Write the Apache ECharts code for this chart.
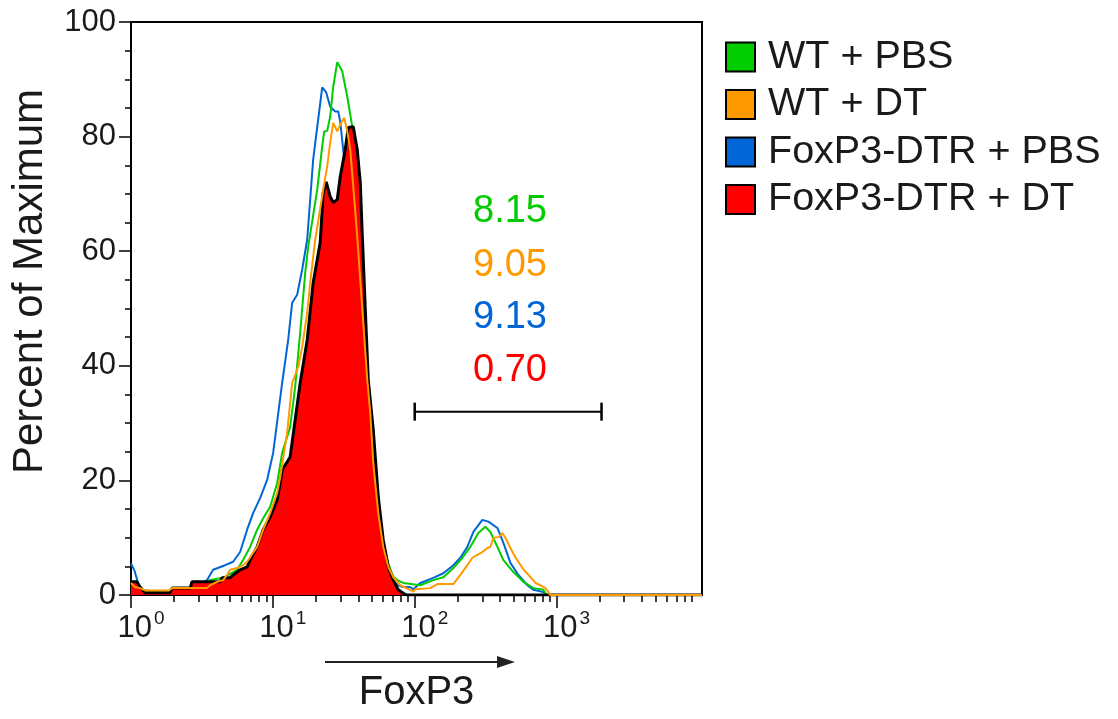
<!DOCTYPE html>
<html>
<head>
<meta charset="utf-8">
<script src="https://cdn.jsdelivr.net/npm/echarts@6/dist/echarts.min.js"></script>
<style>
  html, body { margin: 0; padding: 0; background: #fff; }
  #chart { width: 1118px; height: 719px; }
</style>
</head>
<body>
<div id="chart"></div>
<script>
// FoxP3 intensity (x) and percent of maximum (y)
const wtPbsX = [1, 1.158, 1.885, 2.2, 2.608, 3.611, 4.459, 5.598, 6.17, 6.916, 7.75, 8.545, 9.57, 10.72, 11.63, 13.24, 14.36, 15.58, 16.9, 17.75, 20.54, 22.28, 23.01, 24.16, 25.37, 26.64, 28.44, 30.84, 33.45, 36.29, 39.36, 42.68, 46.3, 51, 55.4, 60, 65.1, 70.6, 75.4, 83.1, 109.5, 135.3, 159.2, 187.3, 216.8, 246.8, 281.1, 314.8, 341.6, 382.8, 421.9, 496.5, 584, 687.4, 808.3, 850, 10600];
const wtPbsY = [0.8, 0.5, 0.5, 0.8, 1.2, 2.6, 3.0, 4.4, 6.1, 8.4, 11.4, 13.4, 15.4, 19.5, 24.8, 29.3, 36.3, 45.8, 56.2, 60.8, 70.7, 78.3, 80.9, 81, 83.5, 88.7, 93, 91.4, 87, 81.7, 74, 58, 38, 27, 16, 9, 5.5, 3.2, 2.6, 2.1, 1.7, 2.6, 3.1, 4.7, 6.5, 8.4, 10.8, 11.9, 11.0, 8.4, 6.1, 4.0, 2.3, 1.2, 0.9, 0, 0];

const wtDtX = [1, 1.067, 1.158, 1.255, 1.85, 1.95, 3.437, 3.611, 4.045, 4.459, 4.759, 4.996, 5.598, 6.17, 6.586, 6.916, 7.75, 8.545, 9.57, 10.72, 11.26, 12.61, 13.68, 15.09, 16.1, 17.46, 18.33, 19.89, 22.64, 24.16, 25.37, 26.64, 28.44, 29.85, 31.86, 33.45, 35.13, 36.88, 39.36, 41.32, 44.09, 46.3, 48.61, 51.03, 55.36, 60, 65.14, 70.63, 79.1, 93.1, 97.8, 101, 128.8, 144.4, 187.3, 209.8, 235, 255, 276.6, 299.9, 325.4, 341.6, 358.7, 389, 415.2, 435.9, 472.8, 512.6, 574.6, 633.7, 710, 769.9, 834.9, 876.5, 900, 10600];
const wtDtY = [2.1, 1.4, 1.2, 0.8, 0.8, 1.2, 1.2, 1.7, 2.3, 2.6, 3.5, 4.4, 4.7, 5.2, 5.8, 6.6, 8.4, 11.4, 14.3, 17.8, 20.5, 28.3, 37, 39.8, 43.3, 49.3, 54.5, 62, 70.7, 74.8, 79, 82.4, 80.9, 82.1, 83.3, 81, 77.7, 71.3, 62.5, 55, 45, 37.6, 31.8, 23, 14.3, 8.4, 4.9, 3.1, 1.7, 0.9, 0.6, 1.0, 1.2, 1.9, 1.9, 3.5, 5.2, 6.5, 7.0, 7.5, 8.2, 8.4, 10.0, 10.1, 10.8, 10.0, 8.2, 6.6, 4.7, 3.5, 2.1, 1.7, 1.2, 0.5, 0, 0];

const dtrPbsX = [1, 1.06, 1.158, 1.362, 2.044, 2.112, 2.608, 3.437, 3.792, 4.605, 5.246, 5.876, 6.586, 7.26, 8.13, 9.117, 10.05, 11.63, 12.82, 13.68, 14.84, 16.1, 17.46, 19.24, 22.28, 23.77, 25.37, 27.53, 28.9, 29.85, 31.35, 35, 40, 45, 50, 55, 60, 65, 70, 76, 83, 93, 97.8, 101, 109.5, 135.3, 159.2, 187.3, 209.8, 235, 259.2, 299.9, 330.6, 382.8, 421.9, 472.8, 538.3, 623.4, 687.4, 808.3, 850, 10600];
const dtrPbsY = [5.5, 4.2, 0.9, 0.7, 0.7, 1.0, 1.2, 2.6, 4.4, 5.2, 5.8, 7.5, 11.4, 14.3, 16.9, 20.1, 24.8, 37, 44.5, 51, 52.4, 56.8, 62, 76, 88.6, 87.7, 85.2, 84.4, 84.4, 82.6, 77.7, 68, 55, 40, 27, 15, 8, 4.5, 2.5, 1.7, 1.4, 1.4, 1.0, 1.2, 2.1, 3.0, 3.8, 5.2, 6.5, 8.4, 11.0, 13.1, 12.8, 11.7, 9.1, 5.6, 3.5, 1.7, 0.9, 0.5, 0, 0];

const dtrDtX = [1, 1.10, 1.158, 1.255, 1.885, 1.947, 2.608, 2.694, 4.246, 4.386, 4.996, 5.246, 5.876, 6.586, 6.916, 7.75, 8.545, 9.57, 10.72, 11.26, 11.63, 13.24, 15.58, 17.46, 19.24, 21.57, 22.64, 23.77, 25.37, 26.64, 28.44, 29.85, 32.38, 33.99, 36.88, 39.36, 41.32, 42.68, 44.81, 47.05, 51.03, 55.36, 60, 65.14, 70.63, 76.63, 83.1, 88, 10600];
const dtrDtY = [2.3, 2.3, 1.4, 0.4, 0.4, 1.2, 1.2, 2.3, 2.3, 3.0, 3.0, 3.5, 4.4, 4.9, 6.1, 8.4, 11.4, 13.6, 16.6, 19.5, 21.8, 24.1, 37, 44.5, 54.5, 61.5, 70.2, 72.1, 69.5, 68.5, 69, 73, 77.7, 81.6, 81.7, 77.7, 72, 63, 50, 37.6, 28.8, 17.1, 9.6, 4.9, 2.6, 0.9, 0.3, 0, 0];

// gate and the percentages inside it
const gateX = [100, 2075];
const gateY = 32;
const gatePercents = ['8.15', '9.05', '9.13', '0.70'];

// axis ticks
const xMajorTicks = [1, 10, 100, 1000];
const xMinorTicks = [2, 3, 4, 5, 6, 7, 8, 9, 20, 30, 40, 50, 60, 70, 80, 90, 200, 300, 400, 500, 600, 700, 800, 900, 2000, 3000, 4000, 5000, 6000, 7000, 8000, 9000];
const yTicks = [0, 20, 40, 60, 80, 100];

const names = ['WT + PBS', 'WT + DT', 'FoxP3-DTR + PBS', 'FoxP3-DTR + DT'];
const colors = ['#00cc00', '#ff9900', '#0066d6', '#ff0000'];

const font = "'Liberation Sans', Arial, sans-serif";

function pairs(xs, ys) {
    return xs.map(function (x, i) { return [x, ys[i]]; });
}

var chartDom = document.getElementById('chart');
var myChart = echarts.init(chartDom);
var option;

option = {
    animation: false,
    backgroundColor: '#fff',
    textStyle: { fontFamily: font, color: '#000' },
    grid: {
        left: 131, top: 22, width: 571, height: 573,
        show: true, borderColor: '#000', borderWidth: 2
    },
    legend: {
        data: names,
        orient: 'vertical',
        left: 725,
        top: 37,
        icon: 'rect',
        itemWidth: 29,
        itemHeight: 29,
        itemGap: 7.5,
        padding: 0,
        itemStyle: { borderColor: '#000', borderWidth: 2 },
        textStyle: { fontSize: 39.5, lineHeight: 38, fontFamily: font, color: '#1a1a1a', padding: [0, 0, 0, 8] }
    },
    xAxis: [
        {
            type: 'log',
            logBase: 10,
            min: 1,
            max: 10600,
            name: 'FoxP3',
            nameLocation: 'middle',
            nameGap: 78,
            nameTextStyle: { fontSize: 40, color: '#1a1a1a', fontFamily: font },
            axisLine: { lineStyle: { color: '#000', width: 2 } },
            axisTick: { customValues: xMajorTicks, length: 13, lineStyle: { color: '#000', width: 1.5 } },
            axisLabel: {
                customValues: xMajorTicks,
                margin: 14,
                padding: [0, 0, 0, 20],
                formatter: function (v) {
                    return '{a|10}{b|' + Math.round(Math.log10(v)) + '}';
                },
                rich: {
                    a: { fontSize: 31, fontFamily: font, color: '#1a1a1a', lineHeight: 38 },
                    b: { fontSize: 19, fontFamily: font, color: '#1a1a1a', verticalAlign: 'top', lineHeight: 20, padding: [0, 0, 0, 2] }
                }
            },
            splitLine: { show: false }
        },
        {
            type: 'log',
            logBase: 10,
            min: 1,
            max: 10600,
            gridIndex: 0,
            position: 'bottom',
            axisLine: { show: false },
            axisTick: { customValues: xMinorTicks, length: 7, lineStyle: { color: '#000', width: 1.5 } },
            axisLabel: { show: false },
            splitLine: { show: false }
        }
    ],
    yAxis: {
        type: 'value',
        min: yTicks[0],
        max: yTicks[yTicks.length - 1],
        interval: 20,
        name: 'Percent of Maximum',
        nameLocation: 'middle',
        nameGap: 80,
        nameRotate: 90,
        nameTextStyle: { fontSize: 42, color: '#1a1a1a', fontFamily: font, padding: [0, 0, 0, 54] },
        axisLine: { show: true, lineStyle: { color: '#000', width: 2 } },
        axisTick: { show: true, length: 12, lineStyle: { color: '#000', width: 1.5 } },
        minorTick: { show: true, splitNumber: 4, length: 6, lineStyle: { color: '#000', width: 1.5 } },
        axisLabel: { fontSize: 31, color: '#1a1a1a', margin: 15 },
        splitLine: { show: false }
    },
    series: [
        {
            name: names[2],
            type: 'line',
            data: pairs(dtrPbsX, dtrPbsY),
            showSymbol: false,
            symbol: 'none',
            color: colors[2],
            lineStyle: { width: 2, color: colors[2] },
            z: 2
        },
        {
            name: names[0],
            type: 'line',
            data: pairs(wtPbsX, wtPbsY),
            showSymbol: false,
            symbol: 'none',
            color: colors[0],
            lineStyle: { width: 2, color: colors[0] },
            z: 2
        },
        {
            name: names[3],
            type: 'line',
            data: pairs(dtrDtX, dtrDtY),
            showSymbol: false,
            symbol: 'none',
            color: colors[3],
            lineStyle: { width: 3, color: '#000' },
            areaStyle: { color: colors[3], opacity: 1 },
            z: 3
        },
        {
            name: names[1],
            type: 'line',
            data: pairs(wtDtX, wtDtY),
            showSymbol: false,
            symbol: 'none',
            color: colors[1],
            lineStyle: { width: 2, color: colors[1] },
            z: 4
        },
        {
            name: 'gate',
            type: 'line',
            data: gateX.map(function (x) { return [x, gateY]; }),
            symbol: 'rect',
            symbolSize: [2.5, 18],
            itemStyle: { color: '#000' },
            lineStyle: { width: 2, color: '#000' },
            z: 5
        }
    ],
    graphic: [
        // arrow under the x axis
        { type: 'line', shape: { x1: 325, y1: 662, x2: 500, y2: 662 }, style: { stroke: '#222', lineWidth: 2 } },
        { type: 'polygon', shape: { points: [[497, 656], [515, 662], [497, 668]] }, style: { fill: '#222' } }
    ].concat(gatePercents.map(function (t, i) {
        return {
            type: 'text',
            x: 510,
            y: [212, 266, 318, 371][i],
            style: {
                text: t,
                fill: [colors[0], colors[1], colors[2], colors[3]][i],
                fontSize: 38,
                fontFamily: font,
                align: 'center',
                verticalAlign: 'middle'
            }
        };
    }))
};

option && myChart.setOption(option);
</script>
</body>
</html>
